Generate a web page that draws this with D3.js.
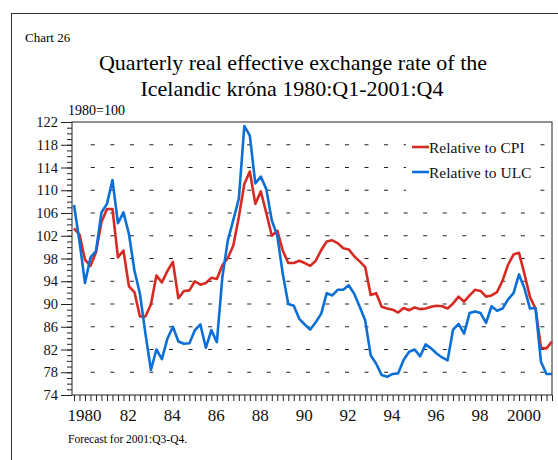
<!DOCTYPE html>
<html>
<head>
<meta charset="utf-8">
<script src="https://cdn.jsdelivr.net/npm/d3@7"></script>
<style>
  body { margin: 0; background: #fff; }
  svg { font-family: "Liberation Serif", "Times New Roman", serif; }
</style>
</head>
<body>
<div id="chart"></div>
<script>
// quarterly values 1980:Q1 - 2001:Q4 (1980=100)
var cpi = [103.3, 102.2, 97.8, 96.7, 99.1, 104.4, 106.7, 106.7,
           98.2, 99.4, 93.1, 92.1, 87.8, 87.8, 89.9, 95.0,
           93.8, 95.8, 97.4, 91.0, 92.3, 92.4, 94.0, 93.4,
           93.7, 94.6, 94.4, 96.8, 98.1, 100.3, 105.3, 111.1,
           113.3, 107.6, 109.8, 106.0, 102.0, 102.9, 99.4, 97.2,
           97.2, 97.6, 97.2, 96.7, 97.6, 99.5, 101.0, 101.2,
           100.7, 99.8, 99.6, 98.4, 97.5, 96.5, 91.6, 91.9,
           89.5, 89.2, 89.0, 88.5, 89.3, 88.9, 89.4, 89.1,
           89.2, 89.5, 89.7, 89.6, 89.2, 90.1, 91.3, 90.4,
           91.5, 92.5, 92.3, 91.3, 91.5, 92.1, 94.1, 96.9,
           98.7, 99.0, 95.2, 91.2, 89.2, 82.3, 82.2, 83.4];

var ulc = [107.4, 101.0, 93.7, 98.2, 99.3, 106.1, 107.6, 111.8,
           104.2, 106.1, 102.3, 95.9, 91.8, 84.8, 78.4, 82.0,
           80.3, 83.9, 86.0, 83.4, 83.0, 83.1, 85.4, 86.4,
           82.3, 85.4, 83.3, 94.7, 101.2, 104.8, 108.5, 121.3,
           119.6, 111.2, 112.4, 110.2, 104.7, 102.0, 95.3, 90.0,
           89.7, 87.4, 86.4, 85.5, 86.8, 88.3, 91.9, 91.5,
           92.5, 92.5, 93.3, 91.8, 89.5, 87.1, 81.0, 79.5,
           77.5, 77.2, 77.7, 77.8, 80.2, 81.6, 82.0, 80.8,
           82.9, 82.2, 81.3, 80.6, 80.1, 85.5, 86.5, 84.8,
           88.4, 88.7, 88.4, 86.7, 89.6, 88.8, 89.2, 90.8,
           91.9, 95.2, 92.7, 89.2, 89.3, 79.8, 77.7, 77.7];

var yearLabels = [1980, 1982, 1984, 1986, 1988, 1990, 1992, 1994, 1996, 1998, 2000];
var yTicks = [74, 78, 82, 86, 90, 94, 98, 102, 106, 110, 114, 118, 122];
var gridValues = [78, 82, 86, 90, 94, 98, 102, 106, 110, 114, 118];
var seriesNames = ["Relative to CPI", "Relative to ULC"];
var seriesColors = ["#d62a22", "#0c6fd6"];

var quarters = cpi.map(function(d, i) { return 1980 + i / 4; });

var width = 558, height = 460;
var svg = d3.select("#chart").append("svg")
    .attr("width", width)
    .attr("height", height);

// outer frame (cut off at right and bottom)
svg.append("rect")
    .attr("x", 11.5).attr("y", 13.5)
    .attr("width", 700).attr("height", 600)
    .attr("fill", "none")
    .attr("stroke", "#333");

var x = d3.scaleLinear().domain([1980, 2001.75]).range([74, 552]);
var y = d3.scaleLinear().domain([74, 122]).range([395, 122]);

// texts
svg.append("text").attr("x", 25).attr("y", 42)
    .style("font-size", "13px").text("Chart 26");
svg.append("text").attr("x", 293).attr("y", 70)
    .attr("text-anchor", "middle").style("font-size", "22px")
    .text("Quarterly real effective exchange rate of the");
svg.append("text").attr("x", 292).attr("y", 96)
    .attr("text-anchor", "middle").style("font-size", "22px")
    .text("Icelandic kr\u00f3na 1980:Q1-2001:Q4");
svg.append("text").attr("x", 68).attr("y", 115)
    .style("font-size", "14px").text("1980=100");
svg.append("text").attr("x", 68).attr("y", 443)
    .style("font-size", "11.5px").text("Forecast for 2001:Q3-Q4.");

// dashed grid
svg.append("g").selectAll("line")
    .data(gridValues)
    .enter().append("line")
    .attr("x1", 90.8).attr("x2", 552)
    .attr("y1", function(d) { return y(d); })
    .attr("y2", function(d) { return y(d); })
    .attr("stroke", "#222")
    .attr("stroke-width", 1.2)
    .attr("stroke-dasharray", "4 15.55");

// plot frame
svg.append("rect")
    .attr("x", 72).attr("y", 122)
    .attr("width", 480).attr("height", 273)
    .attr("fill", "none").attr("stroke", "#222");

// y axis, minor then major
svg.append("g")
    .attr("transform", "translate(72,0)")
    .call(d3.axisLeft(y).tickValues(d3.range(74, 123, 1)).tickSize(5).tickFormat(""))
    .call(function(g) { g.select(".domain").remove(); });

var yAxis = svg.append("g")
    .attr("transform", "translate(72,0)")
    .call(d3.axisLeft(y).tickValues(yTicks).tickSize(11).tickPadding(3));
yAxis.select(".domain").remove();
yAxis.selectAll("text")
    .style("font-family", "Liberation Serif, serif")
    .style("font-size", "14.5px")
    .attr("fill", "#111");

// x axis quarterly ticks
svg.append("g")
    .attr("transform", "translate(0,395)")
    .call(d3.axisBottom(x).tickValues(quarters).tickSize(6).tickFormat(""))
    .call(function(g) { g.select(".domain").remove(); });

var xLab = svg.append("g")
    .attr("transform", "translate(0,395)")
    .call(d3.axisBottom(x)
        .tickValues(yearLabels.map(function(d) { return d + 0.45; }))
        .tickSize(0).tickPadding(14)
        .tickFormat(function(d) {
          var yr = Math.round(d - 0.45);
          return (yr === 1980 || yr === 2000) ? String(yr) : String(yr).slice(2);
        }));
xLab.select(".domain").remove();
xLab.selectAll("text")
    .style("font-family", "Liberation Serif, serif")
    .style("font-size", "17px")
    .attr("fill", "#111");

svg.selectAll(".tick line").attr("stroke", "#222");

// legend background
svg.append("rect")
    .attr("x", 406).attr("y", 128)
    .attr("width", 132).attr("height", 70)
    .attr("fill", "#fff");

// series lines
var line = d3.line()
    .x(function(d, i) { return x(quarters[i]); })
    .y(function(d) { return y(d); });

[cpi, ulc].forEach(function(series, k) {
  svg.append("path")
      .datum(series)
      .attr("fill", "none")
      .attr("stroke", seriesColors[k])
      .attr("stroke-width", 2.6)
      .attr("stroke-linejoin", "round")
      .attr("d", line);
});

// legend
var legend = svg.append("g").selectAll("g")
    .data(seriesNames)
    .enter().append("g")
    .attr("transform", function(d, i) { return "translate(412," + (147 + i * 25) + ")"; });
legend.append("line")
    .attr("x1", 0).attr("x2", 17)
    .attr("stroke", function(d, i) { return seriesColors[i]; })
    .attr("stroke-width", 2.6);
legend.append("text")
    .attr("x", 17).attr("y", 6)
    .style("font-size", "15.5px")
    .attr("fill", "#111")
    .text(function(d) { return d; });
</script>
</body>
</html>
